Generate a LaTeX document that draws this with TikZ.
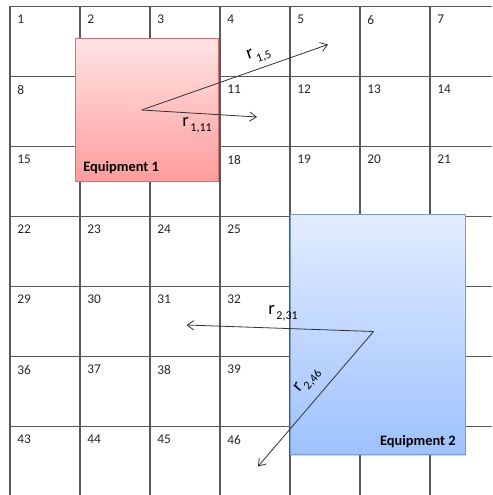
\documentclass[tikz,border=0pt]{standalone}
\usepackage{fontspec}
\setmainfont{Carlito}
\usetikzlibrary{arrows.meta,shadows}
\definecolor{eqonetop}{RGB}{255,228,228}
\definecolor{eqonebot}{RGB}{255,156,156}
\definecolor{eqoneline}{RGB}{214,112,112}
\definecolor{eqtwotop}{RGB}{226,236,255}
\definecolor{eqtwobot}{RGB}{158,194,255}
\definecolor{eqtwoline}{RGB}{118,156,210}
\newcommand{\rdist}[1]{{\fontsize{14}{14}\selectfont r}\kern1.2pt\raisebox{-4pt}{\fontsize{9}{9}\selectfont #1}}
\tikzset{
  gridline/.style={black!65, line width=0.8pt},
  cellnum/.style={anchor=north west, inner sep=0pt, font=\fontsize{10}{10}\selectfont, text=black!85},
  eqbox/.style={rectangle, inner sep=0pt, line width=0.6pt, drop shadow={opacity=0.3, shadow xshift=1pt, shadow yshift=-1pt}},
  eqlabel/.style={inner sep=0pt, font=\fontsize{10.8}{10.8}\selectfont\bfseries},
  rlabel/.style={inner sep=0pt},
  dist/.style={->, black!80, line width=0.6pt}
}
\begin{document}
\begin{tikzpicture}[x=0.75pt, y=-0.75pt, >={Straight Barb[length=5pt,width=7pt]}]
  \useasboundingbox (0,0) rectangle (492,495);
  % grid
  \foreach \k in {0,...,6} {
    \draw[gridline] ({10+70*\k},6.5) -- ({10+70*\k},495);
    \draw[gridline] (10,{6.5+70*\k}) -- (492,{6.5+70*\k});
  }
  % cell numbers (the ones under the equipment are left out)
  \foreach \r in {0,...,6} {
    \foreach \c in {0,...,6} {
      \pgfmathtruncatemacro{\n}{7*\r+\c+1}
      \pgfmathtruncatemacro{\hide}{((\r>0)&&(\r<3)&&(\c>0)&&(\c<3)) || ((\r>2)&&(\c>3))}
      \ifnum\hide=0
        \node[cellnum] (c\n) at ({17+70*\c},{15+70*\r}) {\n};
      \fi
    }
  }
  % equipment
  \node[eqbox, draw=eqoneline, top color=eqonetop, bottom color=eqonebot,
        minimum width=107.25pt, minimum height=106.7pt] (eq1) at (146.5,110) {};
  \node[eqlabel, anchor=base west] (eq1lab) at (83,172) {Equipment 1};
  \node[eqbox, draw=eqtwoline, top color=eqtwotop, bottom color=eqtwobot,
        minimum width=131.25pt, minimum height=180pt] (eq2) at (377.5,334.3) {};
  \node[eqlabel, anchor=base east] (eq2lab) at (456,445) {Equipment 2};
  % distances
  \coordinate (p1) at (141.7,110);
  \coordinate (to5) at (328,44.5);
  \coordinate (to11) at (257,117);
  \coordinate (p2) at (373.5,331.5);
  \coordinate (to31) at (186.5,325);
  \coordinate (to46) at (258,466.5);
  \draw[dist] (p1) -- (to5);
  \draw[dist] (p1) -- (to11);
  \draw[dist] (p2) -- (to31);
  \draw[dist] (p2) -- (to46);
  \node[rlabel, rotate=19] (r15) at (259,55) {\rdist{1,5}};
  \node[rlabel] (r111) at (197,125) {\rdist{1,11}};
  \node[rlabel] (r231) at (283,313.5) {\rdist{2,31}};
  \node[rlabel, rotate=50] (r246) at (308,381) {\rdist{2,46}};
\end{tikzpicture}
\end{document}
